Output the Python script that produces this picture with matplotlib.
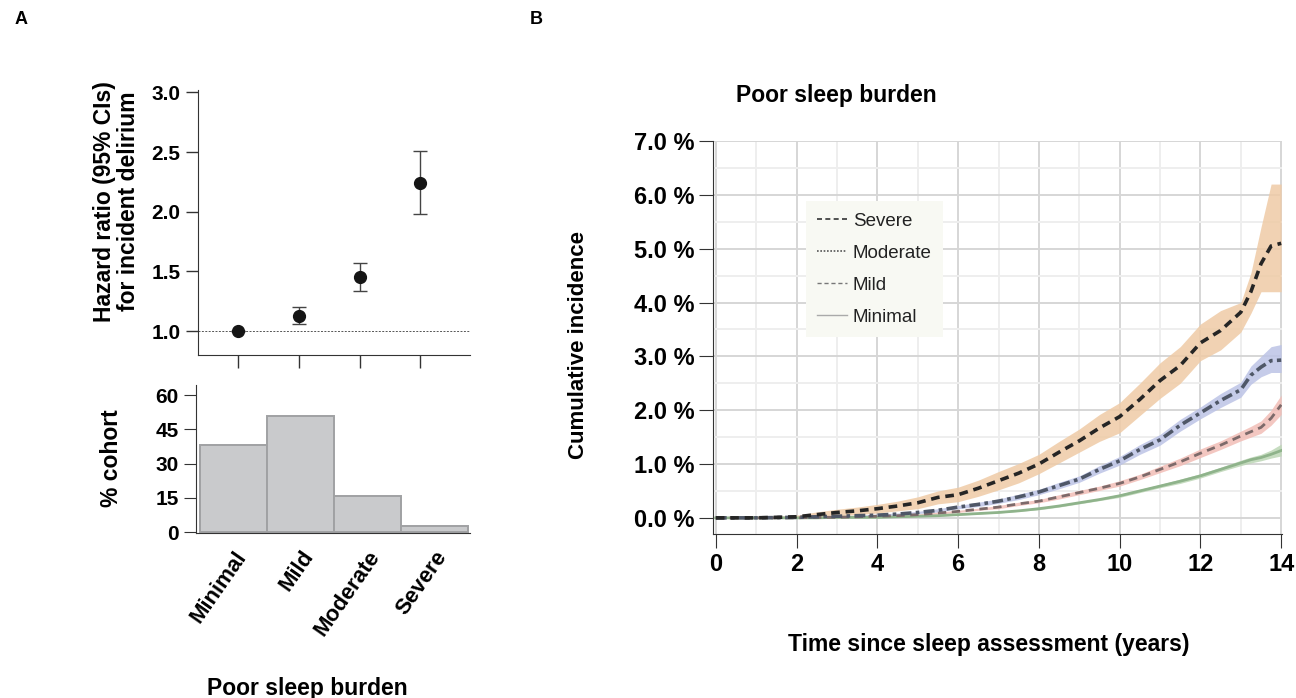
import matplotlib
matplotlib.use('Agg')
import matplotlib.pyplot as plt
from matplotlib.lines import Line2D

plt.rcParams['font.family'] = ['Liberation Sans', 'DejaVu Sans']
narrow = ['Liberation Sans Narrow', 'Liberation Sans', 'DejaVu Sans']

# Panel A data
groups = ['Minimal', 'Mild', 'Moderate', 'Severe']
hr = [1.0, 1.13, 1.45, 2.24]
hr_low = [1.0, 1.06, 1.34, 1.98]
hr_high = [1.0, 1.20, 1.57, 2.51]
cohort_pct = [38, 51, 16, 2.5]

# Panel B data (cumulative incidence, %)
years = [0, 1, 2, 2.5, 3, 3.5, 4, 4.5, 5, 5.5, 6, 6.5, 7, 7.5, 8, 8.5, 9, 9.5,
         10, 10.5, 11, 11.5, 12, 12.5, 13, 13.25, 13.5, 13.75, 14]
severe = [0, 0, 0.02, 0.06, 0.10, 0.13, 0.17, 0.22, 0.28, 0.38, 0.43, 0.55, 0.69, 0.83, 1.0, 1.22, 1.43, 1.67,
          1.88, 2.2, 2.55, 2.83, 3.25, 3.48, 3.82, 4.2, 4.72, 5.05, 5.1]
severe_lo = [0, -0.01, -0.01, 0.01, 0.04, 0.06, 0.09, 0.13, 0.17, 0.26, 0.3, 0.4, 0.52, 0.65, 0.82, 1.02, 1.22, 1.42,
             1.58, 1.9, 2.22, 2.5, 2.92, 3.12, 3.45, 3.8, 4.2, 4.2, 4.2]
severe_hi = [0, 0.01, 0.05, 0.11, 0.16, 0.2, 0.25, 0.31, 0.39, 0.5, 0.57, 0.7, 0.86, 1.01, 1.18, 1.42, 1.65, 1.92,
             2.14, 2.5, 2.88, 3.18, 3.6, 3.85, 4.0, 4.55, 5.4, 6.2, 6.2]
moderate = [0, 0, 0.01, 0.02, 0.03, 0.04, 0.05, 0.07, 0.1, 0.14, 0.2, 0.25, 0.31, 0.39, 0.48, 0.6, 0.72, 0.9,
            1.06, 1.27, 1.45, 1.72, 1.95, 2.18, 2.38, 2.65, 2.8, 2.92, 2.93]
moderate_lo = [0, -0.01, 0, 0.01, 0.02, 0.03, 0.04, 0.05, 0.08, 0.11, 0.17, 0.21, 0.27, 0.34, 0.43, 0.54, 0.66, 0.83,
               0.98, 1.18, 1.35, 1.61, 1.84, 2.05, 2.24, 2.48, 2.62, 2.7, 2.7]
moderate_hi = [0, 0.01, 0.02, 0.03, 0.04, 0.05, 0.07, 0.09, 0.12, 0.17, 0.23, 0.29, 0.35, 0.44, 0.53, 0.66, 0.78, 0.97,
               1.14, 1.36, 1.55, 1.83, 2.06, 2.31, 2.52, 2.82, 3.0, 3.18, 3.22]
mild = [0, 0, 0, 0.01, 0.01, 0.02, 0.03, 0.04, 0.06, 0.09, 0.12, 0.16, 0.2, 0.26, 0.31, 0.39, 0.47, 0.55,
        0.64, 0.76, 0.9, 1.04, 1.2, 1.35, 1.52, 1.6, 1.68, 1.85, 2.1]
mild_lo = [0, 0, -0.01, 0, 0, 0.01, 0.02, 0.03, 0.05, 0.07, 0.1, 0.14, 0.17, 0.23, 0.28, 0.35, 0.43, 0.51,
           0.59, 0.71, 0.84, 0.97, 1.12, 1.27, 1.43, 1.5, 1.57, 1.72, 1.92]
mild_hi = [0, 0, 0.01, 0.02, 0.02, 0.03, 0.04, 0.05, 0.07, 0.11, 0.14, 0.18, 0.23, 0.29, 0.34, 0.43, 0.51, 0.59,
           0.69, 0.81, 0.96, 1.11, 1.28, 1.43, 1.61, 1.7, 1.8, 2.0, 2.28]
minimal = [0, 0, 0, 0, 0.01, 0.01, 0.01, 0.02, 0.03, 0.04, 0.06, 0.08, 0.1, 0.13, 0.17, 0.22, 0.28, 0.34,
           0.41, 0.5, 0.59, 0.68, 0.78, 0.9, 1.02, 1.08, 1.12, 1.18, 1.25]
minimal_lo = [0, 0, 0, 0, 0, 0, 0, 0.01, 0.02, 0.03, 0.05, 0.07, 0.09, 0.12, 0.15, 0.2, 0.26, 0.32,
              0.38, 0.47, 0.56, 0.64, 0.74, 0.86, 0.97, 1.02, 1.06, 1.11, 1.15]
minimal_hi = [0, 0, 0.01, 0.01, 0.02, 0.02, 0.02, 0.03, 0.04, 0.05, 0.07, 0.09, 0.11, 0.14, 0.19, 0.24, 0.3, 0.36,
              0.44, 0.53, 0.62, 0.72, 0.82, 0.94, 1.07, 1.13, 1.18, 1.26, 1.37]

pct_ticks = [0, 1, 2, 3, 4, 5, 6, 7]
year_ticks = [0, 2, 4, 6, 8, 10, 12, 14]

fig = plt.figure(figsize=(12.96, 6.98), dpi=100)
W, H = 1296, 698

def box(l, t, r, b):
    return [l / W, 1 - b / H, (r - l) / W, (b - t) / H]

dark = '#333333'
lab_size = 16.5

# ---- A top: hazard ratios
ax1 = fig.add_axes(box(198, 90, 470, 355))
xs = list(range(len(groups)))
yerr = [[h - lo for h, lo in zip(hr, hr_low)], [hi - h for h, hi in zip(hr, hr_high)]]
ax1.axhline(1.0, color='#555555', lw=0.7, ls=(0, (2, 1.5)), zorder=1)
ax1.errorbar(xs, hr, yerr=yerr, fmt='o', color='#151515', ms=8.5, ecolor='#444444',
             elinewidth=1, capsize=5, capthick=1, zorder=3)
ax1.set_xlim(-0.66, 3.82)
ax1.set_ylim(0.8, 3.02)
ax1.set_yticks([1.0, 1.5, 2.0, 2.5, 3.0])
ax1.set_yticklabels(['1.0', '1.5', '2.0', '2.5', '3.0'])
ax1.set_xticks(xs)
ax1.set_xticklabels([])
for s in ['top', 'right']:
    ax1.spines[s].set_visible(False)
for s in ['left', 'bottom']:
    ax1.spines[s].set_color(dark)
ax1.tick_params(axis='both', direction='out', length=9, color=dark, labelsize=15, width=1)
for lab in ax1.get_yticklabels():
    lab.set_fontweight('bold')
ax1.set_ylabel('Hazard ratio (95% CIs)\nfor incident delirium', fontsize=lab_size, fontweight='bold',
               va='center', linespacing=1.1)
ax1.yaxis.set_label_coords(-0.3, 0.58)

# ---- A bottom: cohort share
ax2 = fig.add_axes(box(196, 385, 470, 533))
ax2.bar(xs, cohort_pct, width=1.0, color='#c9cacc', edgecolor='#a0a1a3', linewidth=1.4)
ax2.set_xlim(-0.56, 3.53)
ax2.set_ylim(-0.4, 64.4)
ax2.set_yticks([0, 15, 30, 45, 60])
ax2.set_xticks(xs)
ax2.set_xticklabels(groups, rotation=55, ha='right', rotation_mode='anchor',
                    fontsize=16, fontweight='bold')
for s in ['top', 'right']:
    ax2.spines[s].set_visible(False)
for s in ['left', 'bottom']:
    ax2.spines[s].set_color(dark)
ax2.tick_params(axis='y', direction='out', length=9, color=dark, labelsize=15)
ax2.tick_params(axis='x', length=0, pad=10)
for lab in ax2.get_yticklabels():
    lab.set_fontweight('bold')
ax2.set_ylabel('% cohort', fontsize=lab_size, fontweight='bold', va='center')
ax2.yaxis.set_label_coords(-0.307, 0.507)
fig.text(307 / W, 1 - 688 / H, 'Poor sleep burden', ha='center', va='center',
         fontsize=lab_size, fontweight='bold')

# ---- B: cumulative incidence
ax3 = fig.add_axes(box(713, 141, 1282, 534))
series = [
    (severe, severe_lo, severe_hi, '#252525', (0, (2.4, 1.6)), 2.6, '#efcba6'),
    (moderate, moderate_lo, moderate_hi, '#4f5767', (0, (3, 1.2, 1, 1.2)), 2.6, '#bcc3e6'),
    (mild, mild_lo, mild_hi, '#7d6a6a', (0, (3, 2)), 2.0, '#f2bdb6'),
    (minimal, minimal_lo, minimal_hi, '#8fb38b', '-', 2.0, '#bcd6b5'),
]
for vals, lo, hi, lc, ls, lw, fc in series[::-1]:
    ax3.fill_between(years, lo, hi, color=fc, alpha=0.85, lw=0, zorder=2)
for vals, lo, hi, lc, ls, lw, fc in series[::-1]:
    ax3.plot(years, vals, color=lc, ls=ls, lw=lw, zorder=3)

ax3.set_xlim(-0.07, 14.02)
ax3.set_ylim(-0.3, 7.0)
ax3.set_xticks(year_ticks)
ax3.set_xticks([1, 3, 5, 7, 9, 11, 13], minor=True)
ax3.set_yticks(pct_ticks)
ax3.set_yticks([0.5, 1.5, 2.5, 3.5, 4.5, 5.5, 6.5], minor=True)
ax3.set_yticklabels([f'{v:.1f} %' for v in pct_ticks])
ax3.set_xticklabels([str(v) for v in year_ticks])
ax3.grid(which='major', color='#d6d6d6', lw=1.4)
ax3.grid(which='minor', color='#eeeeee', lw=1.4)
ax3.set_axisbelow(True)
for s in ['top', 'right']:
    ax3.spines[s].set_visible(False)
for s in ['left', 'bottom']:
    ax3.spines[s].set_color(dark)
ax3.tick_params(which='major', direction='out', length=10, color=dark, labelsize=17)
ax3.tick_params(which='minor', length=0)
for lab in ax3.get_xticklabels() + ax3.get_yticklabels():
    lab.set_fontweight('bold')
    lab.set_family(narrow)
ax3.set_ylabel('Cumulative incidence', fontsize=16, fontweight='bold', va='center')
ax3.yaxis.set_label_coords(-0.237, 0.481)
ax3.set_xlabel('Time since sleep assessment (years)', fontsize=lab_size, fontweight='bold', va='center')
ax3.xaxis.set_label_coords(0.485, -0.282)
ax3.text(0.216, 1.115, 'Poor sleep burden', transform=ax3.transAxes, ha='center', va='center',
         fontsize=lab_size, fontweight='bold')

handles = [
    Line2D([], [], color='#333333', ls=(0, (3, 2)), lw=1.2),
    Line2D([], [], color='#555555', ls=(0, (1, 1)), lw=1.2),
    Line2D([], [], color='#777777', ls=(0, (3, 2)), lw=1.0),
    Line2D([], [], color='#aaaaaa', ls='-', lw=1.0),
]
leg = ax3.legend(handles, ['Severe', 'Moderate', 'Mild', 'Minimal'], loc='upper left',
                 bbox_to_anchor=(0.163, 0.847), frameon=True, facecolor='#f8f9f3', edgecolor='none',
                 framealpha=1, fancybox=False, fontsize=13.5, handlelength=1.6, handletextpad=0.3,
                 labelspacing=0.8, borderpad=0.6, borderaxespad=0)
leg.get_frame().set_linewidth(0)
for t in leg.get_texts():
    t.set_family(narrow)
    t.set_color('#222222')
leg.set_zorder(5)

fig.text(15 / W, 1 - 20 / H, 'A', fontsize=13, fontweight='bold', va='center')
fig.text(530 / W, 1 - 20 / H, 'B', fontsize=13, fontweight='bold', va='center')

fig.savefig('out.png', dpi=100)
